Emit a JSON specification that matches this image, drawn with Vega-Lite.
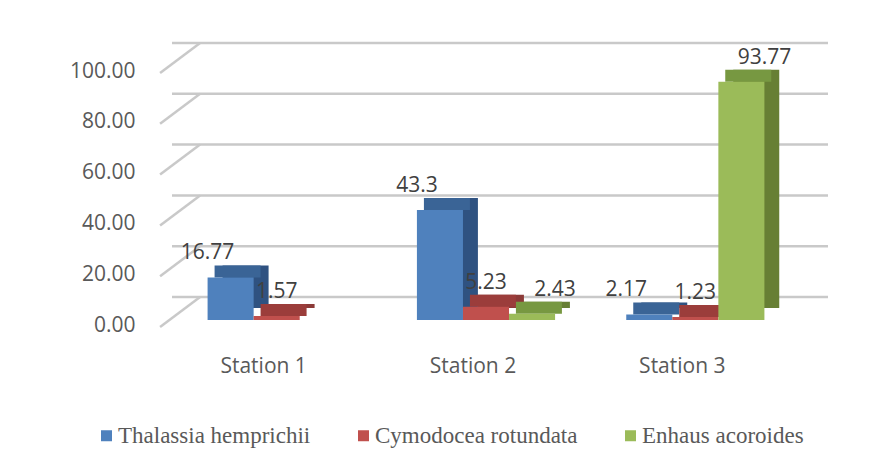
{
  "$schema": "https://vega.github.io/schema/vega-lite/v6.json",
  "autosize": {"type": "none"},
  "padding": {"left": 172, "top": 66, "right": 79, "bottom": 149},
  "width": 628,
  "height": 254,
  "background": "white",
  "config": {"view": {"stroke": null}, "font": "Open Sans"},
  "datasets": {
    "bars": [
      {"station": "Station 1", "species": "Thalassia hemprichii", "value": 16.77},
      {"station": "Station 1", "species": "Cymodocea rotundata", "value": 1.57},
      {"station": "Station 2", "species": "Thalassia hemprichii", "value": 43.3},
      {"station": "Station 2", "species": "Cymodocea rotundata", "value": 5.23},
      {"station": "Station 2", "species": "Enhaus acoroides", "value": 2.43},
      {"station": "Station 3", "species": "Thalassia hemprichii", "value": 2.17},
      {"station": "Station 3", "species": "Cymodocea rotundata", "value": 1.23},
      {"station": "Station 3", "species": "Enhaus acoroides", "value": 93.77}
    ],
    "grid": [{"v": 0}, {"v": 20}, {"v": 40}, {"v": 60}, {"v": 80}, {"v": 100}]
  },
  "resolve": {"scale": {"xOffset": "independent", "color": "independent"}},
  "layer": [
    {
      "data": {"name": "grid"},
      "mark": {"type": "rule", "color": "#c9c9c9", "strokeWidth": 2.5, "xOffset": 28, "yOffset": -23},
      "encoding": {
        "y": {"field": "v", "type": "quantitative", "scale": {"domain": [0, 100], "nice": false},
          "axis": {"title": null, "values": [0, 20, 40, 60, 80, 100], "format": ".2f", "grid": false, "domain": false, "ticks": false,
            "labelPadding": 37, "labelOffset": 5, "labelFontSize": 21, "labelColor": "#595959", "labelFont": "Open Sans"}}
      }
    },
    {
      "data": {"name": "grid"},
      "mark": {"type": "point", "shape": "M0,0L-1,0.75", "size": 6400, "filled": false, "stroke": "#c9c9c9", "strokeWidth": 2.5, "opacity": 1, "xOffset": -7.5, "yOffset": -23},
      "encoding": {
        "x": {"datum": "Station 1", "type": "nominal", "bandPosition": 0},
        "y": {"field": "v", "type": "quantitative"}
      }
    },
    {
      "data": {"name": "bars"},
      "mark": {"type": "bar", "yOffset": -12, "y2Offset": -12},
      "encoding": {
        "x": {"field": "station", "type": "nominal", "scale": {"paddingInner": 0.34, "paddingOuter": 0.17},
          "axis": {"title": null, "labelAngle": 0, "labelAlign": "center", "domain": false, "ticks": false, "labelPadding": 46, "labelOffset": -13,
            "labelFontSize": 21, "labelColor": "#595959", "labelFont": "Open Sans"}},
        "xOffset": {"field": "species", "type": "nominal", "scale": {"domain": ["Thalassia hemprichii", "Cymodocea rotundata", "Enhaus acoroides"], "range": [15, 153], "paddingInner": 0, "paddingOuter": 0}},
        "y": {"field": "value", "type": "quantitative"},
        "color": {"field": "species", "type": "nominal", "legend": null,
          "scale": {"domain": ["Thalassia hemprichii", "Cymodocea rotundata", "Enhaus acoroides"], "range": ["#2f5281", "#8c3a38", "#677f34"]}}
      }
    },
    {
      "data": {"name": "bars"},
      "mark": {"type": "bar", "yOffset": -12, "y2Offset": 0},
      "encoding": {
        "x": {"field": "station", "type": "nominal"},
        "xOffset": {"field": "species", "type": "nominal", "scale": {"domain": ["Thalassia hemprichii", "Cymodocea rotundata", "Enhaus acoroides"], "range": [7, 145], "paddingInner": 0, "paddingOuter": 0}},
        "y": {"field": "value", "type": "quantitative"},
        "y2": {"field": "value"},
        "color": {"field": "species", "type": "nominal", "legend": null,
          "scale": {"domain": ["Thalassia hemprichii", "Cymodocea rotundata", "Enhaus acoroides"], "range": ["#3a6496", "#9b3d3b", "#779841"]}}
      }
    },
    {
      "data": {"name": "bars"},
      "mark": {"type": "bar"},
      "encoding": {
        "x": {"field": "station", "type": "nominal"},
        "xOffset": {"field": "species", "type": "nominal", "scale": {"domain": ["Thalassia hemprichii", "Cymodocea rotundata", "Enhaus acoroides"], "paddingInner": 0, "paddingOuter": 0}},
        "y": {"field": "value", "type": "quantitative"},
        "color": {"field": "species", "type": "nominal", "title": null,
          "scale": {"domain": ["Thalassia hemprichii", "Cymodocea rotundata", "Enhaus acoroides"], "range": ["#4f81bd", "#c0504d", "#9bbb59"]},
          "legend": {"orient": "none", "direction": "horizontal", "legendX": -77, "legendY": 358, "symbolType": "square", "symbolSize": 121,
            "symbolStrokeWidth": 0, "labelFont": "Liberation Serif", "labelFontSize": 23, "labelColor": "#595959", "labelOffset": 0, "columnPadding": 41, "labelLimit": 400}}
      }
    },
    {
      "data": {"name": "bars"},
      "mark": {"type": "text", "baseline": "alphabetic", "dy": -18, "fontSize": 21, "color": "#404040", "font": "Open Sans"},
      "encoding": {
        "x": {"field": "station", "type": "nominal"},
        "xOffset": {"field": "species", "type": "nominal", "scale": {"domain": ["Thalassia hemprichii", "Cymodocea rotundata", "Enhaus acoroides"], "paddingInner": 0, "paddingOuter": 0}},
        "y": {"field": "value", "type": "quantitative"},
        "text": {"field": "value", "type": "quantitative"}
      }
    }
  ]
}
